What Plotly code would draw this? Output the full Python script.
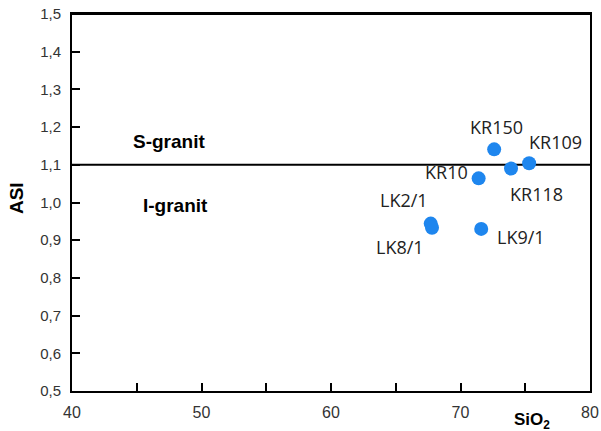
import plotly.graph_objects as go

samples = ["KR150", "KR109", "KR118", "KR10", "LK2/1", "LK8/1", "LK9/1"]
sio2 = [72.6, 75.3, 73.9, 71.4, 67.7, 67.8, 71.6]
asi = [1.141, 1.104, 1.090, 1.064, 0.944, 0.933, 0.930]
boundary_asi = 1.1
x_range = [40, 80]
y_range = [0.5, 1.5]

# label offsets (px) relative to each point
offsets = {
    "KR150": (2, -22),
    "KR109": (26, -21),
    "KR118": (25, 25),
    "KR10": (-32, -6),
    "LK2/1": (-27, -24),
    "LK8/1": (-32, 19),
    "LK9/1": (40, 8),
}

blue = "#1E86EE"
fig = go.Figure()
fig.add_trace(go.Scatter(
    x=x_range, y=[boundary_asi, boundary_asi], mode="lines",
    line=dict(color="black", width=2), showlegend=False, hoverinfo="skip"))
# top frame edge
fig.add_trace(go.Scatter(
    x=x_range, y=[y_range[1], y_range[1]], mode="lines", cliponaxis=False,
    line=dict(color="black", width=2), showlegend=False, hoverinfo="skip"))
fig.add_trace(go.Scatter(
    x=sio2, y=asi, mode="markers",
    marker=dict(size=14, color=blue, line=dict(width=0)),
    showlegend=False))

annotations = []
for s, xv, yv in zip(samples, sio2, asi):
    dx, dy = offsets[s]
    annotations.append(dict(
        x=xv, y=yv, xref="x", yref="y", text=s, showarrow=False,
        xshift=dx, yshift=-dy, xanchor="center", yanchor="middle",
        font=dict(family="Open Sans", size=18, color="#222")))

annotations += [
    dict(x=47.5, y=1.161, xref="x", yref="y", text="<b>S-granit</b>", showarrow=False,
         font=dict(family="Liberation Sans", size=19, color="black")),
    dict(x=48.0, y=0.993, xref="x", yref="y", text="<b>I-granit</b>", showarrow=False,
         font=dict(family="Liberation Sans", size=19, color="black")),
    dict(x=-0.106, y=0.512, xref="paper", yref="paper", xanchor="center", yanchor="middle",
         text="<b>ASI</b>", textangle=-90, showarrow=False,
         font=dict(family="Liberation Sans", size=19, color="black")),
    dict(x=0.888, y=-0.045, xref="paper", yref="paper", xanchor="center", yanchor="top",
         text="<b>SiO<sub>2</sub></b>", showarrow=False,
         font=dict(family="Liberation Sans", size=17, color="black")),
]

fig.update_layout(
    width=601, height=431, autosize=False,
    margin=dict(l=72, r=11, t=14, b=40, autoexpand=False),
    plot_bgcolor="white", paper_bgcolor="white",
    separators=", ",
    annotations=annotations,
    xaxis=dict(range=x_range, dtick=10, tick0=40, ticks="inside", ticklen=8, tickwidth=2,
               tickcolor="black", showline=True, linecolor="black", linewidth=2, mirror=True,
               showgrid=False, zeroline=False, ticklabelstandoff=6, ticklabeloverflow="allow",
               automargin=False,
               minor=dict(dtick=5, tick0=40, ticks="inside", ticklen=8, tickwidth=2, tickcolor="black"),
               tickfont=dict(family="Liberation Sans", size=16, color="#333")),
    yaxis=dict(range=y_range, dtick=0.1, tick0=0.5, tickformat=".1f", ticks="inside", ticklen=8,
               tickwidth=2, tickcolor="black", showline=True, linecolor="black", linewidth=2,
               mirror=True, showgrid=False, zeroline=False, ticklabelstandoff=6,
               ticklabeloverflow="allow", automargin=False,
               tickfont=dict(family="Liberation Sans", size=15, color="#333")),
)

fig.write_html("out.html",
               config=dict(displayModeBar=False, responsive=False),
               post_script="document.body.style.margin='0px';document.body.style.overflow='hidden';")
